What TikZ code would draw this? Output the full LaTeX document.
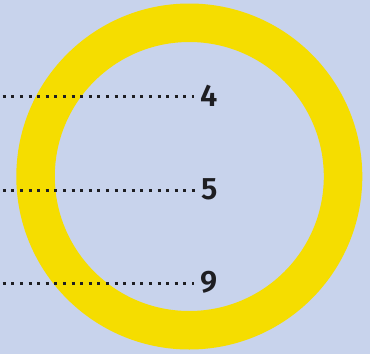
\documentclass[tikz,border=0pt]{standalone}
\usepackage{fontspec}
\setmainfont{Fira Sans}[BoldFont={Fira Sans SemiBold}]
\definecolor{bg}{HTML}{C8D3EC}
\definecolor{ringc}{HTML}{F5DD00}
\definecolor{ink}{HTML}{1E1E22}
\begin{document}
\begin{tikzpicture}[x=1pt,y=-1pt,
  dotline/.style={draw=ink, line width=3pt, line cap=butt, dash pattern=on 3pt off 5.6pt, shorten >=6pt},
  lbl/.style={anchor=west, inner sep=0pt, font=\fontsize{31}{31}\selectfont\bfseries, text=ink}]
\fill[bg] (0,0) rectangle (370,354);
\useasboundingbox (0,0) rectangle (370,354);
\draw[ringc, line width=38.5pt] (189.3,176.5) circle[radius=153.75];
\node[lbl] (n4) at (200,96) {4};
\node[lbl] (n5) at (201,189) {5};
\node[lbl] (n9) at (200,282.5) {9};
\coordinate (s4) at (2.7,96.7);
\coordinate (s5) at (2.7,190);
\coordinate (s9) at (2.7,283.3);
\draw[dotline] (s4) -- (s4 -| n4.west);
\draw[dotline] (s5) -- (s5 -| n5.west);
\draw[dotline] (s9) -- (s9 -| n9.west);
\end{tikzpicture}
\end{document}
